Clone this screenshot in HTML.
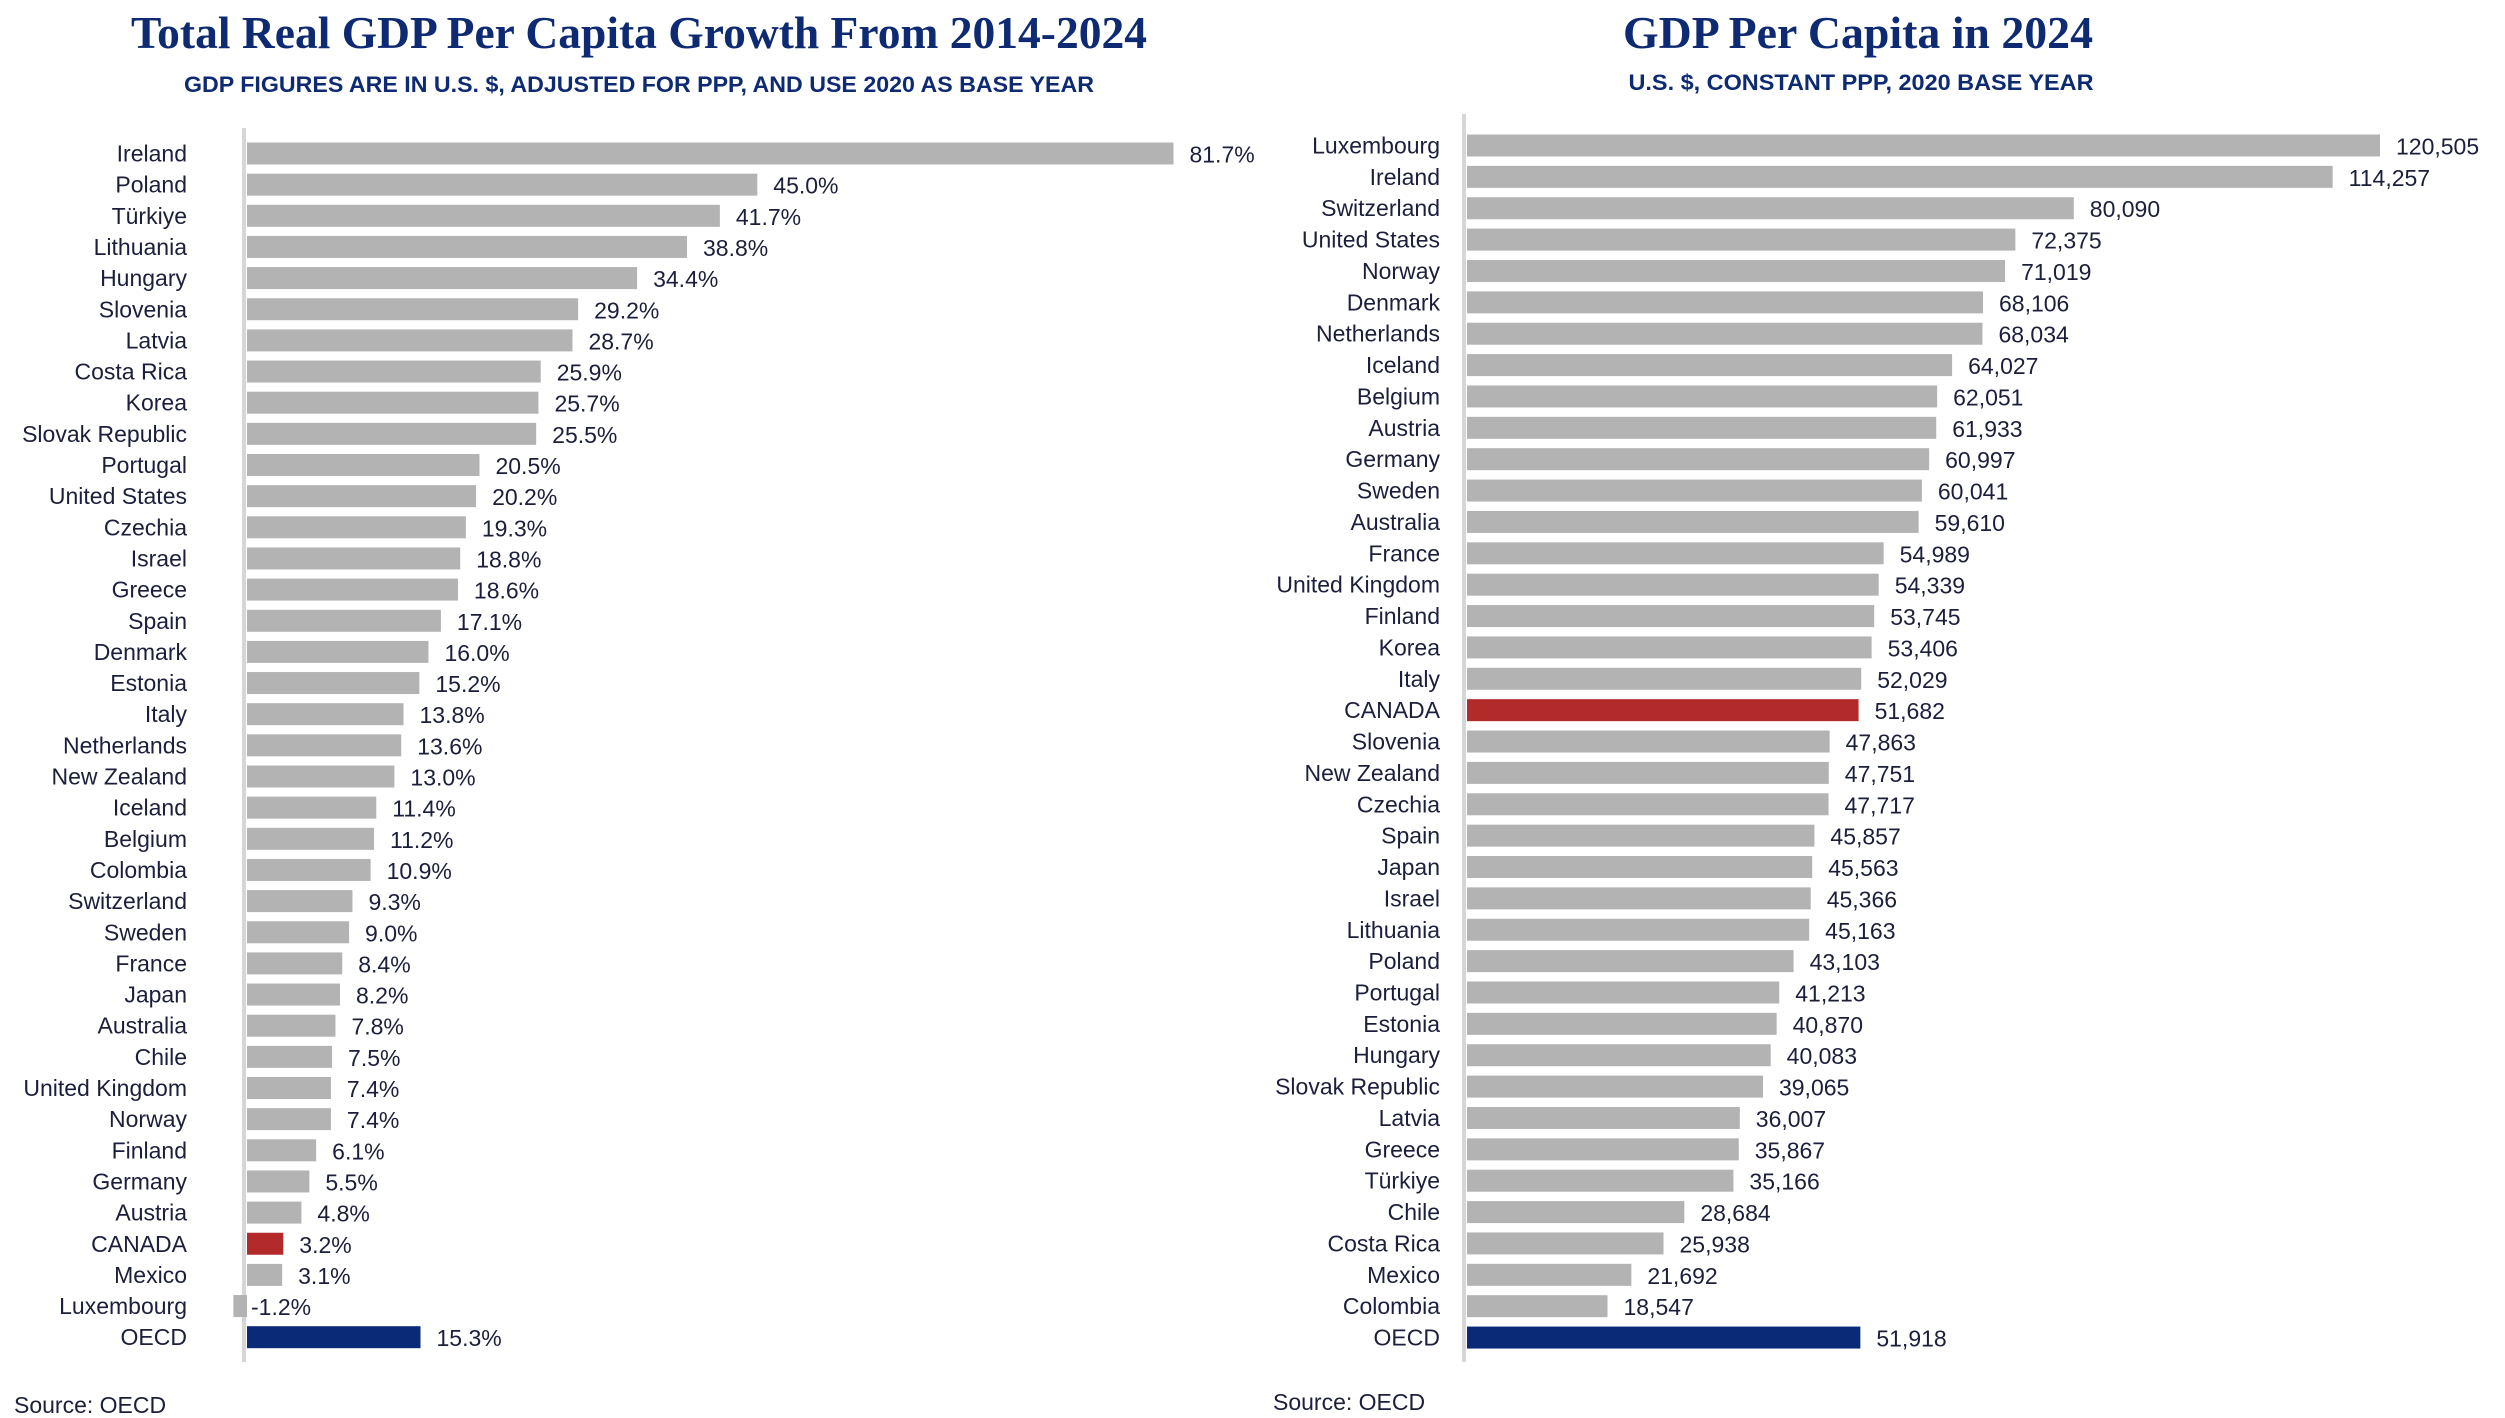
<!DOCTYPE html>
<html><head><meta charset="utf-8"><style>
html,body{margin:0;padding:0;background:#fff;}
svg{display:block;}
.lbl{font-family:"Liberation Sans Narrow","Liberation Sans",sans-serif;font-size:23px;fill:#1b1f3b;}
.ttl{font-family:"Liberation Serif",serif;font-weight:bold;fill:#0d2a72;font-size:46px;}
.sub{font-family:"Liberation Sans Narrow","Liberation Sans",sans-serif;font-weight:bold;fill:#0d2a72;font-size:22px;}
</style></head><body>
<svg id="chart" width="2505" height="1418" viewBox="0 0 2505 1418" xmlns="http://www.w3.org/2000/svg">
<text class="ttl" x="639" y="48" text-anchor="middle" textLength="1016" lengthAdjust="spacingAndGlyphs">Total Real GDP Per Capita Growth From 2014-2024</text>
<text class="sub" x="639" y="92" text-anchor="middle" textLength="910" lengthAdjust="spacingAndGlyphs">GDP FIGURES ARE IN U.S. $, ADJUSTED FOR PPP, AND USE 2020 AS BASE YEAR</text>
<text class="ttl" x="1858" y="48" text-anchor="middle" textLength="470" lengthAdjust="spacingAndGlyphs">GDP Per Capita in 2024</text>
<text class="sub" x="1861" y="90" text-anchor="middle" textLength="465" lengthAdjust="spacingAndGlyphs">U.S. $, CONSTANT PPP, 2020 BASE YEAR</text>
<text class="lbl" x="14" y="1413">Source: OECD</text>
<text class="lbl" x="1273" y="1410">Source: OECD</text>
<line x1="244" y1="128" x2="244" y2="1362" stroke="#d6d6d6" stroke-width="4"/>
<line x1="1464" y1="114" x2="1464" y2="1362" stroke="#d6d6d6" stroke-width="4"/>
<g id="left"></g><g id="right"></g>
</svg>
<script>
const growthCountries=["Ireland","Poland","Türkiye","Lithuania","Hungary","Slovenia","Latvia","Costa Rica","Korea","Slovak Republic","Portugal","United States","Czechia","Israel","Greece","Spain","Denmark","Estonia","Italy","Netherlands","New Zealand","Iceland","Belgium","Colombia","Switzerland","Sweden","France","Japan","Australia","Chile","United Kingdom","Norway","Finland","Germany","Austria","CANADA","Mexico","Luxembourg","OECD"];
const growthValues=[81.7,45.0,41.7,38.8,34.4,29.2,28.7,25.9,25.7,25.5,20.5,20.2,19.3,18.8,18.6,17.1,16.0,15.2,13.8,13.6,13.0,11.4,11.2,10.9,9.3,9.0,8.4,8.2,7.8,7.5,7.4,7.4,6.1,5.5,4.8,3.2,3.1,-1.2,15.3];
const gdpCountries=["Luxembourg","Ireland","Switzerland","United States","Norway","Denmark","Netherlands","Iceland","Belgium","Austria","Germany","Sweden","Australia","France","United Kingdom","Finland","Korea","Italy","CANADA","Slovenia","New Zealand","Czechia","Spain","Japan","Israel","Lithuania","Poland","Portugal","Estonia","Hungary","Slovak Republic","Latvia","Greece","Türkiye","Chile","Costa Rica","Mexico","Colombia","OECD"];
const gdpValues=[120505,114257,80090,72375,71019,68106,68034,64027,62051,61933,60997,60041,59610,54989,54339,53745,53406,52029,51682,47863,47751,47717,45857,45563,45366,45163,43103,41213,40870,40083,39065,36007,35867,35166,28684,25938,21692,18547,51918];
const NS="http://www.w3.org/2000/svg";
function color(c){return c==="CANADA"?"#b22a2a":c==="OECD"?"#0a2a78":"#b3b3b3";}
function draw(gid,cats,vals,x0,scale,y0,step,labelX,fmt,prefix){
  const g=document.getElementById(gid);
  cats.forEach((c,i)=>{
    const v=vals[i];const yc=y0+i*step;
    const xa=x0+Math.min(0,v)*scale, w=Math.abs(v)*scale;
    const r=document.createElementNS(NS,"rect");
    
    
    r.setAttribute("x",xa);r.setAttribute("y",yc-11);r.setAttribute("width",w);r.setAttribute("height",22);r.setAttribute("fill",color(c));
    g.appendChild(r);
    const t=document.createElementNS(NS,"text");
    
    
    t.setAttribute("class","lbl");t.setAttribute("x",labelX);t.setAttribute("y",yc+8);t.setAttribute("text-anchor","end");t.textContent=c;
    g.appendChild(t);
    const vt=document.createElementNS(NS,"text");
    
    
    vt.setAttribute("class","lbl");vt.setAttribute("x",x0+Math.max(0,v)*scale+(v<0?4:16));vt.setAttribute("y",yc+9);vt.textContent=fmt(v);
    g.appendChild(vt);
  });
}
draw("left",growthCountries,growthValues,247,11.34,153.5,31.15,187,v=>v.toFixed(1)+"%","growth");
draw("right",gdpCountries,gdpValues,1467,913/120505,145.5,31.37,1440,v=>v.toLocaleString("en-US"),"gdp");
</script>
</body></html>
